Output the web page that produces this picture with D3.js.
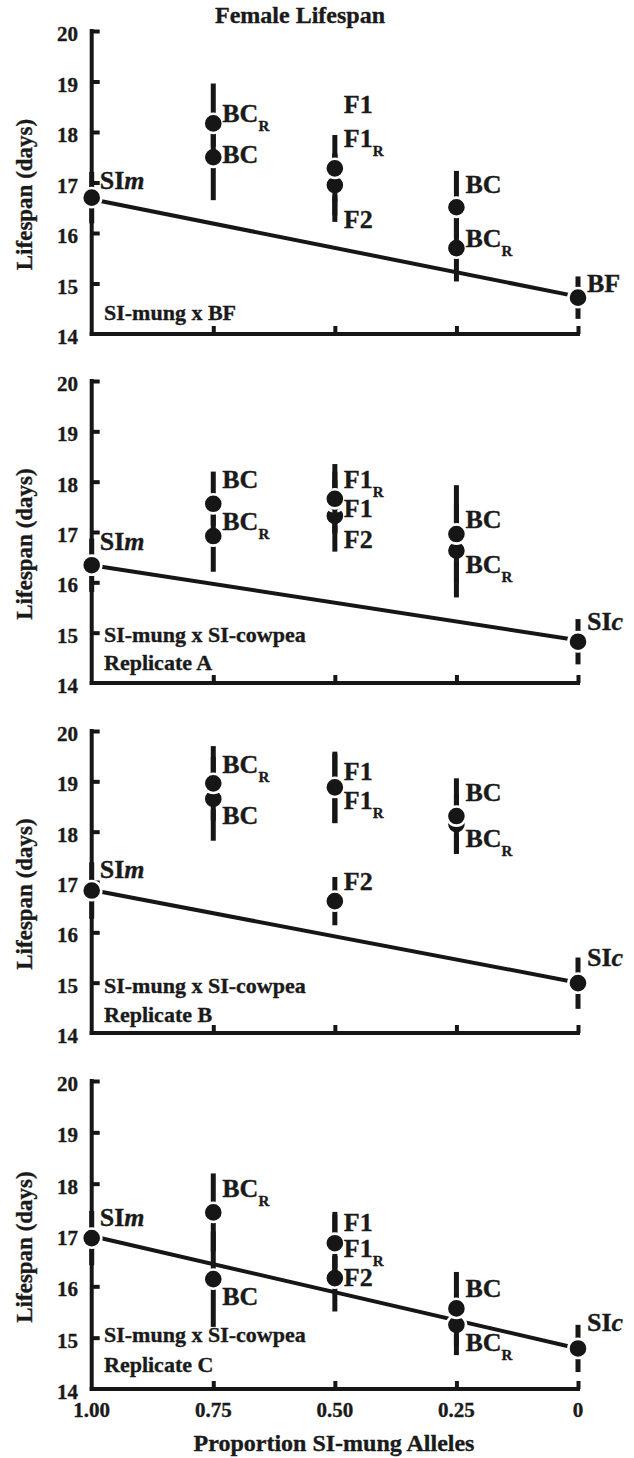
<!DOCTYPE html>
<html>
<head>
<meta charset="utf-8">
<script src="https://cdn.jsdelivr.net/npm/d3@7"></script>
<style>
  html, body { margin: 0; padding: 0; background: #fff; }
  svg text { font-family: "Liberation Serif", "Times New Roman", serif; font-weight: bold; fill: #1a1a1a; stroke: #1a1a1a; stroke-width: 0.35px; }
</style>
</head>
<body>
<svg id="chart" width="634" height="1458"></svg>
<script>
// ---------- data ----------
const xCategories = [1.00, 0.75, 0.50, 0.25, 0];
const xTickLabels = ["1.00", "0.75", "0.50", "0.25", "0"];
const yTicks = [14, 15, 16, 17, 18, 19, 20];

// point order: SIm, BC(0.75), BCR(0.75), F1, F1R, F2, BC(0.25), BCR(0.25), other parent
const pointProps = [1.00, 0.75, 0.75, 0.50, 0.50, 0.50, 0.25, 0.25, 0];

const bfMeans   = [16.70, 17.50, 18.17, 17.28, 16.95, 16.90, 16.51, 15.70, 14.72];
const bfErrors  = [0.51, 0.85, 0.79, 0.66, 0.60, 0.68, 0.72, 0.66, 0.42];
const repAMeans  = [16.34, 17.56, 16.92, 17.60, 17.66, 17.32, 16.96, 16.63, 14.82];
const repAErrors = [0.53, 0.64, 0.71, 0.60, 0.69, 0.71, 0.97, 0.93, 0.45];
const repBMeans  = [16.83, 18.65, 18.96, 18.88, 18.86, 16.62, 18.31, 18.15, 14.99];
const repBErrors = [0.56, 0.83, 0.74, 0.71, 0.69, 0.48, 0.75, 0.59, 0.51];
const repCMeans  = [16.94, 16.14, 17.44, 16.84, 16.80, 16.16, 15.57, 15.25, 14.79];
const repCErrors = [0.53, 0.93, 0.76, 0.61, 0.60, 0.65, 0.71, 0.59, 0.46];

// regression line values at proportion 1.00 and 0
const bfLine   = [16.67, 14.74];
const repALine = [16.34, 14.85];
const repBLine = [16.84, 15.00];
const repCLine = [16.98, 14.79];

// point label text: [main, subscript-or-italic]
const bfLabelText  = [["SI","m"],["BC",""],["BC","R"],["F1",""],["F1","R"],["F2",""],["BC",""],["BC","R"],["BF",""]];
const sicLabelText = [["SI","m"],["BC",""],["BC","R"],["F1",""],["F1","R"],["F2",""],["BC",""],["BC","R"],["SI","c"]];
// label anchor values (lifespan units)
const bfLabelAt   = [16.88, 17.38, 18.20, 18.37, 17.71, 16.09, 16.79, 15.73, 14.84];
const repALabelAt = [16.64, 17.87, 17.04, 17.30, 17.87, 16.68, 17.07, 16.18, 15.05];
const repBLabelAt = [17.07, 18.15, 19.16, 19.03, 18.45, 16.84, 18.60, 17.69, 15.33];
const repCLabelAt = [17.18, 15.64, 17.75, 17.08, 16.57, 16.00, 15.80, 14.75, 15.13];

const panelTitles = [
  ["SI-mung x BF"],
  ["SI-mung x SI-cowpea", "Replicate A"],
  ["SI-mung x SI-cowpea", "Replicate B"],
  ["SI-mung x SI-cowpea", "Replicate C"]
];

// ---------- layout ----------
const panels = [
  { top: 31,   bottom: 334,  means: bfMeans,   errs: bfErrors,   line: bfLine,   labels: bfLabelText,  labelAt: bfLabelAt,   title: panelTitles[0], titleOff: [14] },
  { top: 381,  bottom: 683,  means: repAMeans, errs: repAErrors, line: repALine, labels: sicLabelText, labelAt: repALabelAt, title: panelTitles[1], titleOff: [41, 13] },
  { top: 731,  bottom: 1033, means: repBMeans, errs: repBErrors, line: repBLine, labels: sicLabelText, labelAt: repBLabelAt, title: panelTitles[2], titleOff: [40, 11] },
  { top: 1081, bottom: 1389, means: repCMeans, errs: repCErrors, line: repCLine, labels: sicLabelText, labelAt: repCLabelAt, title: panelTitles[3], titleOff: [47, 17] }
];

const svg = d3.select("#chart");
const ink = "#161616";
const x = d3.scaleLinear().domain([1, 0]).range([91.7, 578]);

svg.append("text")
  .attr("x", 300).attr("y", 23)
  .attr("text-anchor", "middle")
  .attr("font-size", 24)
  .text("Female Lifespan");

panels.forEach((p, pi) => {
  const y = d3.scaleLinear().domain([14, 20]).range([p.bottom, p.top]);
  const g = svg.append("g");

  // y axis
  const yAxis = d3.axisRight(y).tickValues(yTicks.filter(t => t > 14)).tickSize(8).tickFormat("").tickSizeOuter(0);
  const ya = g.append("g").attr("transform", `translate(${x(1)},0)`).call(yAxis);
  ya.select(".domain").remove();
  ya.selectAll(".tick line").attr("stroke", ink).attr("stroke-width", 4);
  g.append("line").attr("x1", x(1)).attr("x2", x(1)).attr("y1", y(20) - 2).attr("y2", y(14) + 2)
    .attr("stroke", ink).attr("stroke-width", 4);

  // y tick labels
  g.selectAll(".ylab").data(yTicks).enter().append("text")
    .attr("x", 78).attr("y", d => y(d) + 10)
    .attr("text-anchor", "end").attr("font-size", 21)
    .text(d => d);

  // x axis
  const xAxis = d3.axisTop(x).tickValues(xCategories.slice(1)).tickSize(8).tickFormat("").tickSizeOuter(0);
  const xa = g.append("g").attr("transform", `translate(0,${y(14)})`).call(xAxis);
  xa.select(".domain").remove();
  xa.selectAll(".tick line").attr("stroke", ink).attr("stroke-width", 4);
  g.append("line").attr("x1", x(1) - 2).attr("x2", x(0) + 2).attr("y1", y(14)).attr("y2", y(14))
    .attr("stroke", ink).attr("stroke-width", 4);

  if (pi === panels.length - 1) {
    g.selectAll(".xlab").data(xCategories).enter().append("text")
      .attr("x", d => x(d)).attr("y", y(14) + 28)
      .attr("text-anchor", "middle").attr("font-size", 21)
      .text((d, i) => xTickLabels[i]);
  }

  // y axis title
  g.append("text")
    .attr("transform", `translate(32,${(p.top + p.bottom) / 2 + 12}) rotate(-90)`)
    .attr("text-anchor", "middle").attr("font-size", 23)
    .text("Lifespan (days)");

  // regression line
  g.append("line")
    .attr("x1", x(1)).attr("y1", y(p.line[0]))
    .attr("x2", x(0)).attr("y2", y(p.line[1]))
    .attr("stroke", ink).attr("stroke-width", 4);

  // points with error bars, drawn lowest first
  const pts = p.means.map((m, i) => ({ prop: pointProps[i], mean: m, err: p.errs[i] }))
    .sort((a, b) => a.mean - b.mean);
  pts.forEach(d => {
    g.append("line")
      .attr("x1", x(d.prop)).attr("x2", x(d.prop))
      .attr("y1", y(d.mean + d.err)).attr("y2", y(d.mean - d.err))
      .attr("stroke", ink).attr("stroke-width", 5);
    g.append("circle")
      .attr("cx", x(d.prop)).attr("cy", y(d.mean)).attr("r", 9.6)
      .attr("fill", ink).attr("stroke", "#fff").attr("stroke-width", 2.6);
  });

  // point labels
  p.labels.forEach((lab, i) => {
    const lx = (pointProps[i] === 1 ? x(1) + 8 : x(pointProps[i]) + 9);
    const t = g.append("text").attr("x", lx).attr("y", y(p.labelAt[i])).attr("font-size", 26);
    t.append("tspan").text(lab[0]);
    if (lab[1] === "R") {
      t.append("tspan").attr("font-size", 15).attr("dy", 9).text("R");
    } else if (lab[1]) {
      t.append("tspan").attr("font-style", "italic").text(lab[1]);
    }
  });

  // panel title text
  p.title.forEach((line, li) => {
    g.append("text")
      .attr("x", 104).attr("y", y(14) - p.titleOff[li])
      .attr("font-size", 22)
      .text(line);
  });
});

svg.append("text")
  .attr("x", 334).attr("y", 1451)
  .attr("text-anchor", "middle").attr("font-size", 24)
  .text("Proportion SI-mung Alleles");
</script>
</body>
</html>
